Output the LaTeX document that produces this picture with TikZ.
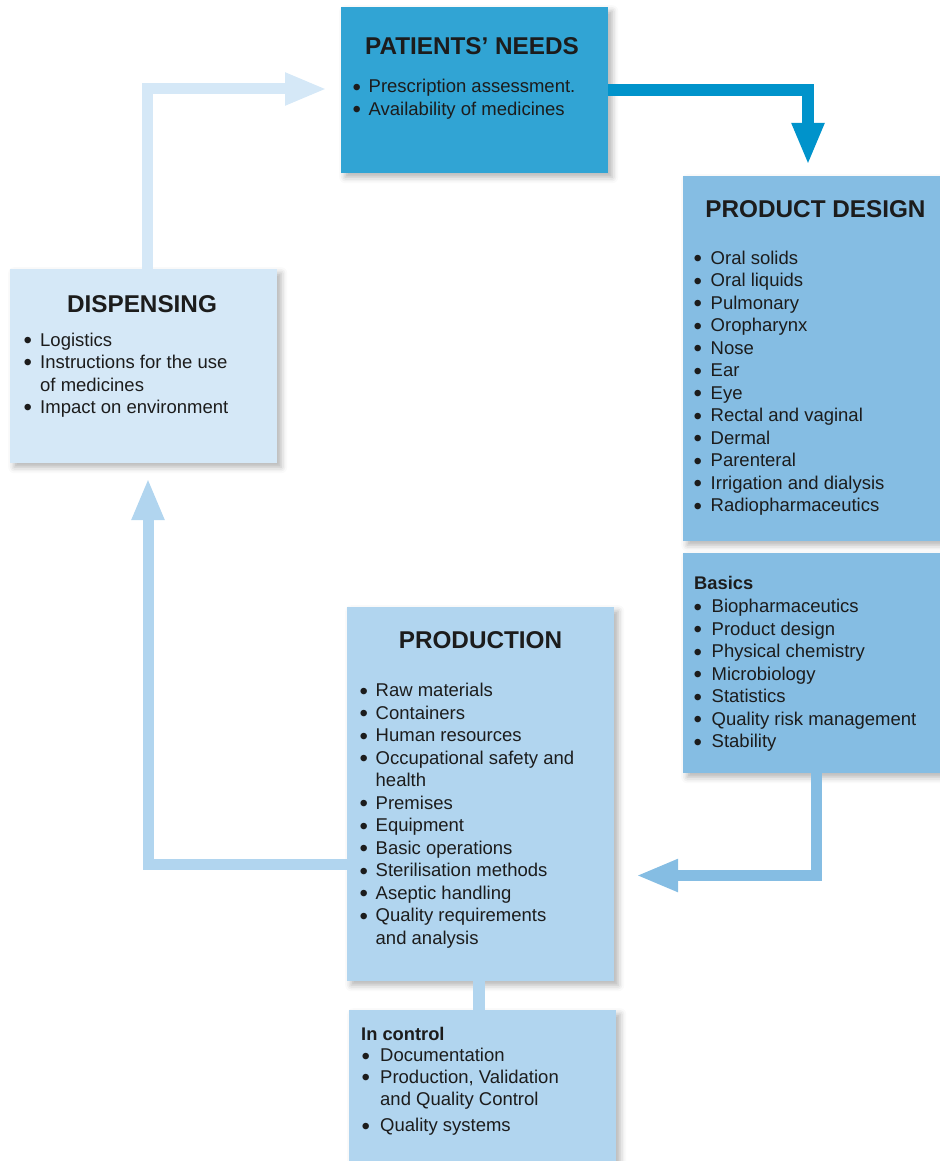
\documentclass[tikz,border=0pt]{standalone}
\usepackage{fontspec}
\setmainfont{Liberation Sans}
\usetikzlibrary{arrows.meta,shadows.blur,calc}

\definecolor{needsblue}{HTML}{31A4D4}
\definecolor{needsarrow}{HTML}{0093CB}
\definecolor{designblue}{HTML}{85BDE3}
\definecolor{prodblue}{HTML}{B1D5EF}
\definecolor{dispblue}{HTML}{D5E8F7}
\definecolor{ink}{HTML}{1C1C1C}

% bullet list: fixed bullet column, then the item text
\newcommand\bl{\raisebox{-2.4pt}{\fontsize{24}{0}\selectfont\textbullet}}
\newenvironment{blist}[1]{\begin{tabular}[t]{@{}p{#1}@{}l@{}}}{\end{tabular}}

\tikzset{
  panel/.style={rectangle, inner sep=0pt, anchor=north west, draw=none,
    blur shadow={shadow xshift=4pt, shadow yshift=-4pt,
      shadow blur radius=6pt, shadow opacity=30}},
  heading/.style={anchor=base, inner sep=0pt, text=ink,
    font=\fontsize{24.3}{29}\selectfont\bfseries},
  subhead/.style={anchor=base west, inner sep=0pt, text=ink,
    font=\fontsize{18.3}{22.5}\selectfont\bfseries},
  listtext/.style={anchor=base west, inner sep=0pt, text=ink,
    font=\fontsize{18.5}{22.5}\selectfont},
  flowarrow/.style={draw=#1, line width=11pt, line join=miter,
    -{Triangle[length=42pt,width=30pt]}},
}

\begin{document}
\begin{tikzpicture}[x=1pt,y=-1pt]
\useasboundingbox (0,0) rectangle (939,1161);

% ---- boxes ----
\node[panel, fill=needsblue, minimum width=267pt, minimum height=166pt] (pn) at (341,7) {};
\node[panel, fill=designblue, minimum width=262pt, minimum height=365pt] (pd) at (683,176) {};
\node[panel, fill=designblue, minimum width=262pt, minimum height=220pt] (bs) at (683,553) {};
\node[panel, fill=prodblue, minimum width=267pt, minimum height=374pt] (pr) at (347,607) {};
\node[panel, fill=prodblue, minimum width=267pt, minimum height=160pt] (ic) at (349,1010) {};
\node[panel, fill=dispblue, minimum width=267pt, minimum height=194pt] (ds) at (10,269) {};

% ---- texts ----
\node[heading] (pnTitle) at (472,55) {PATIENTS’ NEEDS};
\node[listtext] (pnList) at (352.5,92.7) {\begin{blist}{16pt}
\bl & Prescription assessment.\\
\bl & Availability of medicines
\end{blist}};

\node[heading] (pdTitle) at (815.5,218) {PRODUCT DESIGN};
\node[listtext] (pdList) at (693.5,264.3) {\begin{blist}{17pt}
\bl & Oral solids\\
\bl & Oral liquids\\
\bl & Pulmonary\\
\bl & Oropharynx\\
\bl & Nose\\
\bl & Ear\\
\bl & Eye\\
\bl & Rectal and vaginal\\
\bl & Dermal\\
\bl & Parenteral\\
\bl & Irrigation and dialysis\\
\bl & Radiopharmaceutics
\end{blist}};

\node[subhead] (bsTitle) at (694,589.3) {Basics};
\node[listtext] (bsList) at (693.5,612.7) {\begin{blist}{18pt}
\bl & Biopharmaceutics\\
\bl & Product design\\
\bl & Physical chemistry\\
\bl & Microbiology\\
\bl & Statistics\\
\bl & Quality risk management\\
\bl & Stability
\end{blist}};

\node[heading] (dsTitle) at (142,312) {DISPENSING};
\node[listtext] (dsList) at (23.5,346) {\begin{blist}{16.5pt}
\bl & Logistics\\
\bl & Instructions for the use\\
    & of medicines\\
\bl & Impact on environment
\end{blist}};

\node[heading] (prTitle) at (480.5,648.3) {PRODUCTION};
\node[listtext] (prList) at (359.5,696.7) {\begin{blist}{16pt}
\bl & Raw materials\\
\bl & Containers\\
\bl & Human resources\\
\bl & Occupational safety and\\
    & health\\
\bl & Premises\\
\bl & Equipment\\
\bl & Basic operations\\
\bl & Sterilisation methods\\
\bl & Aseptic handling\\
\bl & Quality requirements\\
    & and analysis
\end{blist}};

\node[subhead] (icTitle) at (361,1040) {In control};
\node[listtext, font=\fontsize{18.5}{21.8}\selectfont] (icList) at (361.5,1061.7) {\begin{blist}{18.5pt}
\bl & Documentation\\
\bl & Production, Validation\\
    & and Quality Control\\[4.8pt]
\bl & Quality systems
\end{blist}};

% ---- connectors ----
\coordinate (pdTip) at (808,165);
\draw[flowarrow=needsarrow, line width=12pt] (pn.east) -| (pdTip);

\coordinate (bsOut) at ($(bs.south west)+(133,0)$);
\coordinate (prTip) at (636,875.5);
\draw[flowarrow=designblue] (bsOut) |- (prTip);

\coordinate (prOut) at ($(pr.north west)+(0,257.5)$);
\coordinate (dsTip) at (148,478);
\draw[flowarrow=prodblue] (prOut) -| (dsTip);

\coordinate (dsOut) at ($(ds.north west)+(137,0)$);
\coordinate (pnTip) at (327,89);
\draw[flowarrow=dispblue] (dsOut) |- (pnTip);

\draw[prodblue, line width=12pt] ($(pr.south west)+(132,0)$) -- ($(ic.north west)+(130,0)$);
\end{tikzpicture}
\end{document}
